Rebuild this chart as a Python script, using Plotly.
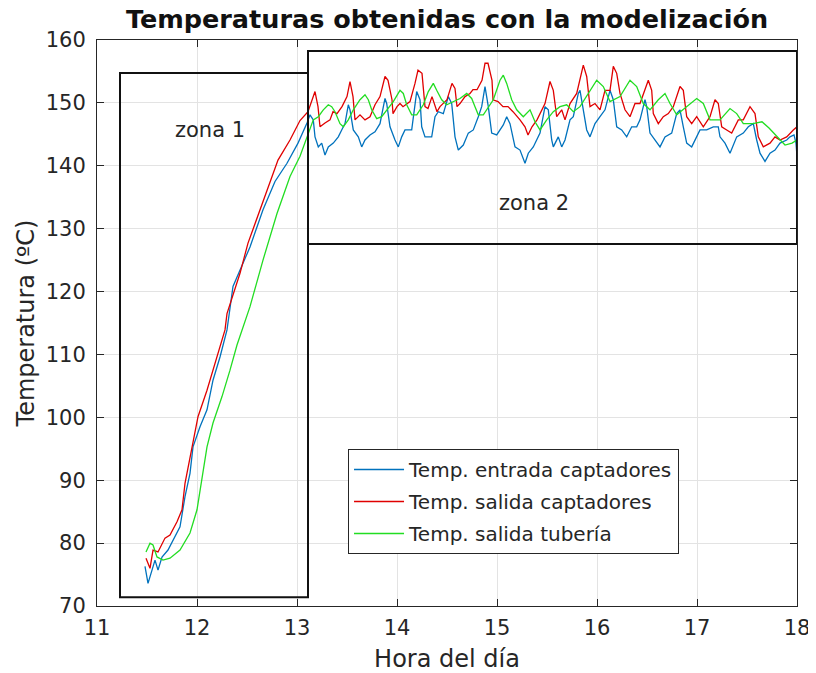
import plotly.graph_objects as go

# ---------------- data ----------------
hora_entrada = [11.48, 11.51, 11.55, 11.58, 11.61, 11.65, 11.71, 11.78, 11.83, 11.88, 11.93, 11.96,
                12.03, 12.10, 12.16, 12.23, 12.30, 12.36, 12.53, 12.66, 12.78, 12.90, 13.01, 13.10,
                13.13, 13.163, 13.18, 13.213, 13.247, 13.28, 13.313, 13.363, 13.413, 13.447, 13.48,
                13.513, 13.53, 13.563, 13.613, 13.647, 13.68, 13.73, 13.78, 13.83, 13.88, 13.897,
                13.93, 13.98, 14.013, 14.047, 14.08, 14.147, 14.18, 14.197, 14.23, 14.247, 14.28,
                14.347, 14.38, 14.413, 14.463, 14.513, 14.547, 14.58, 14.613, 14.663, 14.713, 14.763,
                14.813, 14.847, 14.88, 14.913, 14.947, 14.997, 15.063, 15.097, 15.13, 15.18, 15.23,
                15.28, 15.313, 15.363, 15.43, 15.48, 15.513, 15.547, 15.563, 15.613, 15.647, 15.68,
                15.73, 15.763, 15.813, 15.83, 15.863, 15.897, 15.93, 15.98, 16.03, 16.08, 16.13,
                16.163, 16.197, 16.247, 16.297, 16.347, 16.397, 16.43, 16.48, 16.497, 16.53, 16.58,
                16.63, 16.68, 16.747, 16.797, 16.83, 16.863, 16.897, 16.947, 16.997, 17.03, 17.097,
                17.163, 17.213, 17.23, 17.28, 17.33, 17.397, 17.463, 17.513, 17.563, 17.597, 17.63,
                17.68, 17.73, 17.78, 17.83, 17.897, 17.93, 17.97, 17.99, 18.0]
temp_entrada = [76.3, 73.6, 75.7, 77.3, 75.7, 77.8, 78.9, 81.0, 82.6, 87.4, 91.1, 95.3,
                98.5, 101.2, 105.9, 109.6, 113.9, 120.8, 127.1, 133.0, 137.5, 140.4, 143.6, 146.8,
                148.1, 147.3, 144.6, 143.0, 143.6, 141.7, 143.0, 143.6, 144.6, 145.7, 146.7,
                149.7, 148.9, 145.7, 144.6, 143.0, 144.1, 144.9, 145.4, 146.7, 150.7, 149.9,
                146.2, 144.1, 143.0, 144.6, 145.7, 145.7, 149.4, 151.8, 150.5, 146.2, 144.6,
                144.6, 147.8, 148.6, 148.3, 151.0, 149.9, 144.6, 142.5, 143.3, 145.2, 145.7,
                147.8, 149.4, 152.6, 149.4, 145.2, 144.9, 146.5, 147.8, 146.7, 143.0, 142.5,
                140.4, 142.0, 143.0, 145.2, 149.4, 148.9, 144.1, 143.0, 144.6, 143.0, 144.1,
                147.3, 147.8, 151.5, 152.0, 148.9, 145.7, 144.6, 146.7, 147.8, 148.9, 152.0,
                150.5, 146.2, 145.7, 144.6, 146.2, 146.2, 147.3, 150.5, 149.4, 145.2, 144.1,
                143.0, 144.6, 145.2, 148.3, 148.9, 146.2, 143.6, 143.0, 144.6, 145.7, 145.7,
                146.2, 146.2, 144.6, 143.6, 142.0, 144.6, 145.2, 146.2, 146.7, 144.1, 142.0,
                140.7, 142.0, 142.5, 143.6, 144.1, 144.6, 144.9, 143.6, 141.5]

hora_salida = [11.49, 11.53, 11.56, 11.61, 11.68, 11.73, 11.80, 11.85, 11.88, 11.93, 11.98, 12.01,
               12.10, 12.18, 12.28, 12.30, 12.43, 12.51, 12.63, 12.71, 12.81, 12.93, 13.03, 13.11,
               13.18, 13.21, 13.23, 13.28, 13.33, 13.36, 13.40, 13.45, 13.50, 13.53, 13.56, 13.58,
               13.63, 13.68, 13.73, 13.78, 13.83, 13.88, 13.91, 13.95, 13.96, 14.00, 14.03, 14.06,
               14.13, 14.18, 14.21, 14.25, 14.28, 14.31, 14.35, 14.40, 14.43, 14.50, 14.55, 14.58,
               14.60, 14.63, 14.68, 14.73, 14.76, 14.80, 14.85, 14.88, 14.91, 14.95, 14.96, 15.01,
               15.06, 15.11, 15.16, 15.23, 15.28, 15.31, 15.35, 15.40, 15.48, 15.53, 15.563, 15.597,
               15.647, 15.68, 15.73, 15.797, 15.83, 15.863, 15.897, 15.93, 15.98, 16.03, 16.08,
               16.13, 16.163, 16.197, 16.23, 16.28, 16.33, 16.38, 16.43, 16.48, 16.513, 16.547,
               16.563, 16.613, 16.663, 16.713, 16.763, 16.83, 16.863, 16.897, 16.947, 16.997,
               17.063, 17.13, 17.18, 17.213, 17.247, 17.297, 17.347, 17.413, 17.463, 17.53, 17.58,
               17.613, 17.663, 17.73, 17.78, 17.83, 17.897, 17.963, 18.0]
temp_salida = [77.6, 76.0, 78.9, 78.6, 80.8, 81.3, 83.4, 85.3, 89.5, 93.7, 97.5, 100.1,
               104.3, 108.6, 113.9, 116.5, 122.9, 127.7, 133.0, 136.7, 140.9, 144.1, 147.2, 148.6,
               151.8, 149.4, 146.2, 146.8, 147.3, 148.6, 148.3, 149.4, 151.0, 153.4, 151.0, 147.3,
               148.1, 147.3, 147.8, 149.7, 151.0, 154.2, 153.6, 150.5, 148.3, 149.4, 149.9, 149.4,
               150.2, 153.1, 155.2, 154.7, 149.4, 149.1, 151.0, 148.6, 149.4, 150.5, 153.1, 152.3,
               149.4, 149.9, 151.0, 151.5, 152.1, 152.1, 153.6, 156.3, 156.3, 153.6, 150.5, 150.2,
               149.4, 149.4, 148.6, 147.3, 146.2, 144.9, 146.2, 147.3, 149.9, 153.4, 152.0, 147.8,
               148.9, 147.3, 149.9, 151.5, 153.6, 156.0, 154.2, 149.4, 149.9, 148.9, 152.0,
               152.0, 155.8, 154.7, 151.5, 148.9, 147.8, 149.9, 149.9, 152.0, 153.6, 152.0,
               148.3, 146.7, 147.8, 148.3, 149.4, 152.6, 152.0, 147.8, 146.7, 147.8,
               146.2, 147.8, 150.5, 149.9, 146.2, 145.7, 145.2, 147.3, 147.3, 149.4, 148.3,
               144.6, 143.0, 143.6, 144.6, 144.1, 144.6, 145.7, 146.2]

hora_tuberia = [11.49, 11.53, 11.56, 11.60, 11.66, 11.73, 11.83, 11.93, 12.00, 12.05, 12.10, 12.16,
                12.25, 12.33, 12.40, 12.53, 12.66, 12.80, 12.93, 13.03, 13.113, 13.163, 13.213,
                13.263, 13.313, 13.347, 13.38, 13.43, 13.463, 13.513, 13.563, 13.63, 13.68, 13.713,
                13.747, 13.797, 13.847, 13.897, 13.963, 14.03, 14.063, 14.097, 14.147, 14.197,
                14.263, 14.313, 14.363, 14.397, 14.447, 14.497, 14.563, 14.63, 14.697, 14.747,
                14.78, 14.813, 14.863, 14.913, 14.963, 15.03, 15.063, 15.097, 15.147, 15.197,
                15.263, 15.33, 15.38, 15.43, 15.497, 15.563, 15.63, 15.697, 15.763, 15.83, 15.913,
                15.997, 16.063, 16.13, 16.23, 16.33, 16.397, 16.463, 16.53, 16.613, 16.68, 16.73,
                16.797, 16.897, 16.997, 17.063, 17.13, 17.23, 17.33, 17.397, 17.463, 17.56, 17.65,
                17.72, 17.80, 17.88, 17.95, 18.0]
temp_tuberia = [78.6, 80.0, 79.7, 77.8, 77.3, 77.6, 78.9, 81.6, 85.3, 90.0, 95.3, 99.1,
                103.3, 107.5, 111.5, 117.6, 125.0, 132.4, 138.3, 141.5, 145.2, 147.3, 147.8,
                148.9, 149.7, 149.4, 148.6, 146.7, 146.2, 147.3, 148.9, 150.5, 151.3, 150.5,
                148.9, 147.5, 147.8, 148.9, 150.2, 152.0, 151.5, 149.7, 148.1, 148.1,
                149.7, 151.8, 153.1, 152.0, 150.5, 149.7, 150.2, 150.7, 151.5, 150.7,
                149.4, 148.1, 148.1, 149.4, 150.5, 153.6, 154.4, 153.1, 150.5, 148.9,
                147.8, 148.9, 147.0, 145.7, 147.3, 148.6, 149.4, 149.7, 148.6, 149.4, 151.5,
                153.6, 152.6, 150.2, 151.0, 153.6, 152.6, 149.9, 148.9, 150.5, 151.5, 149.9,
                148.1, 149.4, 150.7, 149.9, 147.3, 147.3, 149.1, 148.3, 146.7, 146.7, 147.0,
                146.0, 144.6, 143.3, 143.6, 144.1]

series_names = ["Temp. entrada captadores", "Temp. salida captadores", "Temp. salida tubería"]

# zone rectangles: (x0, x1, y0, y1) in data units
zona1 = (11.23, 13.11, 71.4, 154.75)
zona2 = (13.11, 18.0, 127.55, 158.25)
zona_labels = ["zona 1", "zona 2"]
zona_label_pos = [(12.13, 145.7), (15.37, 134.1)]

x_ticks = [11, 12, 13, 14, 15, 16, 17, 18]
y_ticks = [70, 80, 90, 100, 110, 120, 130, 140, 150, 160]

# ---------------- figure ----------------
FONT = "DejaVu Sans"
AX = "#262626"
colors = ["#0072BD", "#E00000", "#22DD22"]

fig = go.Figure()
for name, xs, ys, c in zip(series_names,
                           [hora_entrada, hora_salida, hora_tuberia],
                           [temp_entrada, temp_salida, temp_tuberia], colors):
    fig.add_trace(go.Scatter(x=xs, y=ys, mode="lines", name=name, legendgroup=name,
                             line=dict(color=c, width=1.3)))

for z in (zona1, zona2):
    fig.add_shape(type="rect", xref="x", yref="y", x0=z[0], x1=z[1], y0=z[2], y1=z[3],
                  line=dict(color="#111111", width=2), layer="above")

for txt, (xx, yy) in zip(zona_labels, zona_label_pos):
    fig.add_annotation(x=xx, y=yy, xref="x", yref="y", text=txt, showarrow=False,
                       font=dict(family=FONT, size=21, color=AX))

axis_common = dict(showline=True, linecolor=AX, linewidth=1, mirror="allticks",
                   ticks="inside", ticklen=7, tickcolor=AX, showgrid=True,
                   gridcolor="#e3e3e3", gridwidth=1, zeroline=False,
                   tickfont=dict(family=FONT, size=21, color=AX))

fig.update_xaxes(range=[11, 18], tickvals=x_ticks, ticklabelstandoff=3,
                 title=dict(text="Hora del día", font=dict(family=FONT, size=24, color=AX), standoff=10),
                 **axis_common)
fig.update_yaxes(range=[70, 160], tickvals=y_ticks, ticklabelstandoff=6,
                 title=dict(text="Temperatura (ºC)", font=dict(family=FONT, size=24, color=AX), standoff=4),
                 **axis_common)

fig.update_layout(
    width=816, height=673,
    margin=dict(l=89, r=27, t=32, b=75, autoexpand=False),
    paper_bgcolor="white", plot_bgcolor="white",
    title=dict(text="<b>Temperaturas obtenidas con la modelización</b>", x=0.5, xref="paper",
               y=1.0, yref="container", yanchor="top", pad=dict(t=2),
               font=dict(family=FONT, size=25.5, color="#111111")),
    showlegend=True,
    legend=dict(x=0.3586, y=0.2774, xanchor="left", yanchor="top", bgcolor="white",
                bordercolor=AX, borderwidth=1, tracegroupgap=3, itemwidth=50,
                font=dict(family=FONT, size=20, color=AX)),
)

fig.write_html("out.html")
